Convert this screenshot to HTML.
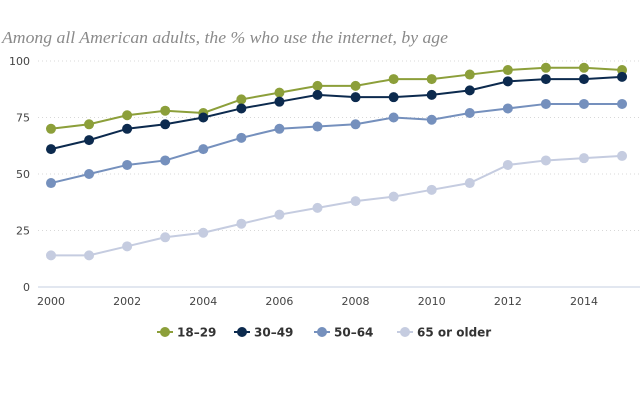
<!DOCTYPE html>
<html><head><meta charset="utf-8"><style>
body{margin:0;background:#fff;width:640px;height:400px;overflow:hidden}
svg text{font-family:"DejaVu Sans","Liberation Sans",sans-serif}
</style></head><body>
<svg id="chart" width="640" height="400" xmlns="http://www.w3.org/2000/svg">
<text x="2" y="43" font-style="italic" font-size="17" fill="#8a8a8a" textLength="446" lengthAdjust="spacingAndGlyphs" style="font-family:'Liberation Serif',serif">Among all American adults, the % who use the internet, by age</text>
<g id="grid"></g><g id="axes"></g><g id="series"></g><g id="legend"></g>
</svg>
<script>
const years=[2000,2001,2002,2003,2004,2005,2006,2007,2008,2009,2010,2011,2012,2013,2014,2015];
const s1829=[70,72,76,78,77,83,86,89,89,92,92,94,96,97,97,96];
const s3049=[61,65,70,72,75,79,82,85,84,84,85,87,91,92,92,93];
const s5064=[46,50,54,56,61,66,70,71,72,75,74,77,79,81,81,81];
const s65=[14,14,18,22,24,28,32,35,38,40,43,46,54,56,57,58];
const yTicks=[0,25,50,75,100];
const xTicks=[2000,2002,2004,2006,2008,2010,2012,2014];
const seriesNames=["18-29","30-49","50-64","65 or older"];
const colors=["#8c9f3a","#0c2a4e","#7590bd","#c5cce0"];
const NS="http://www.w3.org/2000/svg";
const x=v=>51+(v-2000)*38.07;
const y=v=>287-v*2.26;
function mk(t,a,p){const e=document.createElementNS(NS,t);for(const k in a)e.setAttribute(k,a[k]);p.appendChild(e);return e;}
const grid=document.getElementById('grid'),axes=document.getElementById('axes'),ser=document.getElementById('series'),leg=document.getElementById('legend');
yTicks.forEach(v=>{
 if(v>0){const l=mk('line',{x1:38,x2:640,y1:y(v),y2:y(v),stroke:'#d8d8d8','stroke-dasharray':'1,3'},grid);
 
 }
 const t=mk('text',{x:30,y:y(v)+4,'text-anchor':'end','font-size':11,fill:'#444'},axes);t.textContent=v;
 
 
});
const ax=mk('line',{x1:38,x2:640,y1:y(0),y2:y(0),stroke:'#c5cfe0'},axes);


xTicks.forEach(v=>{const t=mk('text',{x:x(v),y:305,'text-anchor':'middle','font-size':11,fill:'#444'},axes);t.textContent=v;
 
 });
[s1829,s3049,s5064,s65].forEach((d,i)=>{
 const g=mk('g',{},ser);
 
 
 const pl=mk('polyline',{points:d.map((v,j)=>x(years[j])+','+y(v)).join(' '),fill:'none',stroke:colors[i],'stroke-width':2},g);
 
 
 d.forEach((v,j)=>{const c=mk('circle',{cx:x(years[j]),cy:y(v),r:5,fill:colors[i]},g);
  
  });
});
const lx=[165,242,322,405];
seriesNames.forEach((n,i)=>{
 const g=mk('g',{},leg);
 
 
 mk('line',{x1:lx[i]-8,x2:lx[i]+8,y1:332,y2:332,stroke:colors[i],'stroke-width':2},g);
 mk('circle',{cx:lx[i],cy:332,r:5,fill:colors[i]},g);
 const t=mk('text',{x:lx[i]+12,y:336.5,'font-size':12,'font-weight':'bold',fill:'#333'},g);t.textContent=n.replace('-','–');
});
</script>
</body></html>
